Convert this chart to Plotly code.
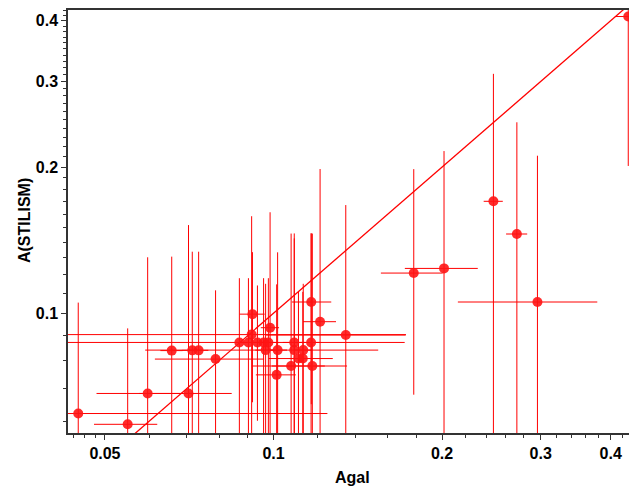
import plotly.graph_objects as go

# Data
agal = [0.0448, 0.0549, 0.0596, 0.0705, 0.0658, 0.0716, 0.0735, 0.0788,
        0.0917, 0.0986, 0.1168, 0.1211, 0.1346, 0.0914, 0.0869, 0.0902,
        0.0936, 0.0960, 0.0979, 0.0968, 0.1017, 0.1089, 0.1089, 0.1130,
        0.1167, 0.1108, 0.1128, 0.1075, 0.1173, 0.1013,
        0.178, 0.2016, 0.296, 0.247, 0.272, 0.430]
a_stilism = [0.0622, 0.0591, 0.0684, 0.0684, 0.0838, 0.0839, 0.0839, 0.0805,
             0.0996, 0.0934, 0.1055, 0.0961, 0.0902, 0.0904, 0.0871, 0.0871,
             0.0871, 0.0871, 0.0871, 0.0840, 0.0840, 0.0871, 0.0840, 0.0840,
             0.0871, 0.0807, 0.0807, 0.0779, 0.0779, 0.0747,
             0.121, 0.1237, 0.1055, 0.170, 0.1456, 0.408]
agal_err_minus = [0.080, 0.0071, 0.0113, 0.013, 0.003, 0.003, 0.003, 0.0174,
                  0.0047, 0.0037, 0.009, 0.0082, 0.0376, 0.081, 0.0846, 0.004,
                  0.004, 0.004, 0.004, 0.004, 0.004, 0.005, 0.0499, 0.004,
                  0.005, 0.004, 0.0148, 0.016, 0.018, 0.0083,
                  0.0225, 0.030, 0.0826, 0.0097, 0.0118, 0.023]
agal_err_plus = [0.080, 0.0071, 0.0113, 0.0137, 0.003, 0.003, 0.003, 0.0174,
                 0.0047, 0.0037, 0.010, 0.0082, 0.0376, 0.081, 0.0846, 0.004,
                 0.004, 0.004, 0.004, 0.004, 0.004, 0.005, 0.0449, 0.004,
                 0.005, 0.004, 0.0148, 0.016, 0.018, 0.0083,
                 0.0225, 0.030, 0.0826, 0.0097, 0.0118, 0.023]
a_err_minus = [0.043, 0.034, 0.062, 0.0835, 0.047, 0.050, 0.050, 0.031,
               0.034, 0.068, 0.0405, 0.102, 0.0768, 0.068, 0.031, 0.031,
               0.027, 0.031, 0.031, 0.031, 0.0495, 0.0555, 0.062, 0.031,
               0.059, 0.030, 0.030, 0.068, 0.068, 0.040,
               0.053, 0.092, 0.1, 0.141, 0.1016, 0.207]
a_err_plus = [0.043, 0.034, 0.062, 0.0835, 0.047, 0.050, 0.050, 0.031,
              0.034, 0.068, 0.0405, 0.102, 0.0768, 0.068, 0.031, 0.031,
              0.027, 0.031, 0.031, 0.031, 0.0495, 0.0555, 0.062, 0.031,
              0.059, 0.030, 0.030, 0.068, 0.068, 0.040,
              0.077, 0.092, 0.1055, 0.141, 0.1016, 0.207]

line_vals = [0.03, 0.5]  # one-to-one line

x_ticks = [0.05, 0.1, 0.2, 0.3, 0.4]
x_ticklabels = ["0.05", "0.1", "0.2", "0.3", "0.4"]
y_ticks = [0.1, 0.2, 0.3, 0.4]
y_ticklabels = ["0.1", "0.2", "0.3", "0.4"]
x_minor = [0.044, 0.046, 0.048, 0.06, 0.07, 0.08, 0.09,
           0.12, 0.14, 0.16, 0.18, 0.22, 0.24, 0.26, 0.28,
           0.32, 0.34, 0.36, 0.38, 0.42]
y_minor = [0.06, 0.07, 0.08, 0.09,
           0.11, 0.12, 0.13, 0.14, 0.15, 0.16, 0.17, 0.18, 0.19,
           0.21, 0.22, 0.23, 0.24, 0.25, 0.26, 0.27, 0.28, 0.29,
           0.31, 0.32, 0.33, 0.34, 0.35, 0.36, 0.37, 0.38, 0.39,
           0.41, 0.42]

red = "rgba(255,0,0,1)"

fig = go.Figure()
fig.add_trace(go.Scatter(
    x=line_vals, y=line_vals, mode="lines",
    line=dict(color=red, width=1.3), showlegend=False, hoverinfo="skip"))
fig.add_trace(go.Scatter(
    x=agal, y=a_stilism, mode="markers",
    marker=dict(size=10, color="rgba(255,20,20,0.9)", line=dict(width=0)),
    error_x=dict(type="data", symmetric=False, array=agal_err_plus,
                 arrayminus=agal_err_minus, color=red, thickness=1, width=0),
    error_y=dict(type="data", symmetric=False, array=a_err_plus,
                 arrayminus=a_err_minus, color=red, thickness=1, width=0),
    cliponaxis=True, showlegend=False))

axis_font = dict(family="Liberation Sans, Arial, sans-serif", size=16, color="black", weight="bold")

fig.update_xaxes(
    type="log", range=[-1.367, -0.3652], automargin=False,
    tickvals=x_ticks, ticktext=x_ticklabels, tickfont=axis_font,
    ticks="outside", ticklen=5, tickcolor="#333", linecolor="#333", linewidth=1.5,
    showline=True, mirror=True, showgrid=False, zeroline=False,
    minor=dict(tickvals=x_minor, ticks="outside", ticklen=3, tickcolor="#333", showgrid=False))
fig.update_yaxes(
    type="log", range=[-1.2463, -0.3759], automargin=False,
    tickvals=y_ticks, ticktext=y_ticklabels, tickfont=axis_font,
    ticks="outside", ticklen=5, tickcolor="#333", linecolor="#333", linewidth=1.5,
    showline=True, mirror=False, showgrid=False, zeroline=False,
    minor=dict(tickvals=y_minor, ticks="outside", ticklen=3, tickcolor="#333", showgrid=False))

fig.update_layout(
    width=631, height=490,
    margin=dict(l=68, r=2, t=10, b=57),
    plot_bgcolor="white", paper_bgcolor="white",
    annotations=[
        dict(text="Agal", xref="paper", yref="paper", x=0.508, y=-0.105,
             xanchor="center", yanchor="middle", showarrow=False, font=axis_font),
        dict(text="A(STILISM)", xref="paper", yref="paper", x=-0.0784, y=0.501,
             xanchor="center", yanchor="middle", showarrow=False, textangle=-90, font=axis_font),
    ],
)

# remove the default 8px page margin so the figure fills the window exactly
fig.write_html("out.html", config={"displayModeBar": False},
               post_script="document.body.style.margin='0';document.body.style.overflow='hidden';")
